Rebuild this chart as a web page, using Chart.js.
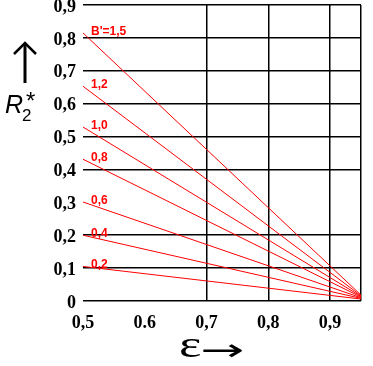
<!DOCTYPE html>
<html>
<head>
<meta charset="utf-8">
<script src="https://cdn.jsdelivr.net/npm/chart.js@4/dist/chart.umd.min.js"></script>
<style>
  html, body { margin: 0; padding: 0; background: #fff; }
  #wrap { width: 373px; height: 366px; }
</style>
</head>
<body>
<div id="wrap"><canvas id="chart" width="373" height="366"></canvas></div>
<script>
// values
var bLabels = ["B'=1,5", "1,2", "1,0", "0,8", "0,6", "0,4", "0,2"];
var startR = [0.815, 0.653, 0.529, 0.431, 0.301, 0.2, 0.105];
var endR = [0.018, 0.016, 0.014, 0.012, 0.01, 0.008, 0.006];
var epsStart = 0.5;
var epsEnd = 0.95;
var xTicks = [0.5, 0.6, 0.7, 0.8, 0.9, 0.95];
var xTickLabels = ["0,5", "0.6", "0,7", "0,8", "0,9", ""];
var xGridAt = [0.7, 0.8, 0.9, 0.95];
var yNoGrid = ["0.3"];

var datasets = bLabels.map(function(lbl, i) {
    return {
        label: lbl,
        data: [{x: epsStart, y: startR[i]}, {x: epsEnd, y: endR[i]}],
        borderColor: '#ff0000',
        borderWidth: 1,
        pointRadius: 0,
        fill: false
    };
});

// titles and curve labels
var decor = {
    id: 'decor',
    afterDraw: function(chart) {
        var c = chart.ctx;
        var xs = chart.scales.x, ys = chart.scales.y;
        c.save();
        // curve labels
        c.fillStyle = '#ff0000';
        c.font = 'bold 12px "Liberation Sans", Arial, sans-serif';
        c.textAlign = 'left';
        c.textBaseline = 'alphabetic';
        bLabels.forEach(function(lbl, i) {
            c.fillText(lbl, xs.getPixelForValue(epsStart) + 8, ys.getPixelForValue(startR[i]) + 2);
        });
        // y title: arrow + R2*
        c.fillStyle = '#000';
        c.strokeStyle = '#000';
        c.lineWidth = 3;
        c.beginPath();
        c.moveTo(25, 83); c.lineTo(25, 44);
        c.stroke();
        c.lineWidth = 2.5;
        c.beginPath();
        c.moveTo(14, 54); c.lineTo(25, 43); c.lineTo(36, 54);
        c.stroke();
        c.font = 'italic 25px "Liberation Sans", Arial, sans-serif';
        c.fillText('R', 5, 113);
        c.font = '17px "Liberation Sans", Arial, sans-serif';
        c.fillText('2', 22, 121);
        c.font = '24px "Liberation Sans", Arial, sans-serif';
        c.fillText('*', 26, 109);
        // x title
        c.save();
        c.translate(179, 357);
        c.scale(1.4, 1);
        c.font = '38px "Liberation Serif", "Times New Roman", serif';
        c.fillText('\u03b5', 0, 0);
        c.restore();
        c.translate(200, 360);
        c.scale(1.75, 1);
        c.font = '30px "DejaVu Sans", sans-serif';
        c.fillText('\u2192', 0, 0);
        c.restore();
    }
};

var ctx = document.getElementById('chart').getContext('2d');
var chart = new Chart(ctx, {
    type: 'line',
    data: { datasets: datasets },
    options: {
        responsive: false,
        animation: false,
        layout: { padding: { top: 5, right: 12, left: 0, bottom: 0 } },
        plugins: { legend: { display: false }, tooltip: { enabled: false } },
        scales: {
            x: {
                type: 'linear',
                min: epsStart,
                max: epsEnd,
                afterBuildTicks: function(scale) {
                    scale.ticks = xTicks.map(function(v) { return {value: v}; });
                },
                afterFit: function(scale) {
                    scale.height = 65;
                    scale.paddingLeft = 0;
                    scale.paddingRight = 0;
                },
                border: { display: false },
                grid: {
                    drawTicks: false,
                    lineWidth: 1.5,
                    color: function(c) {
                        return (c.tick && xGridAt.indexOf(c.tick.value) >= 0) ? '#000' : 'rgba(0,0,0,0)';
                    }
                },
                ticks: {
                    padding: 12,
                    maxRotation: 0,
                    autoSkip: false,
                    color: '#000',
                    font: { family: '"Liberation Serif", "Times New Roman", serif', size: 18, weight: 'bold' },
                    callback: function(v) {
                        var i = xTicks.indexOf(v);
                        return i >= 0 ? xTickLabels[i] : '';
                    }
                }
            },
            y: {
                min: 0,
                max: 0.9,
                afterFit: function(scale) {
                    scale.width = 83;
                    scale.paddingTop = 0;
                    scale.paddingBottom = 0;
                },
                border: { display: false },
                grid: {
                    drawTicks: false,
                    lineWidth: 1.5,
                    color: function(c) {
                        if (c.type !== 'tick' || !c.tick) return '#000';
                        return yNoGrid.indexOf(c.tick.value.toFixed(1)) >= 0 ? 'rgba(0,0,0,0)' : '#000';
                    }
                },
                ticks: {
                    stepSize: 0.1,
                    padding: 7,
                    labelOffset: 2,
                    color: '#000',
                    font: { family: '"Liberation Serif", "Times New Roman", serif', size: 18, weight: 'bold' },
                    callback: function(v) {
                        if (Math.abs(v) < 1e-6) return '0';
                        return v.toFixed(1).replace('.', ',');
                    }
                }
            }
        }
    },
    plugins: [decor]
});
</script>
</body>
</html>
